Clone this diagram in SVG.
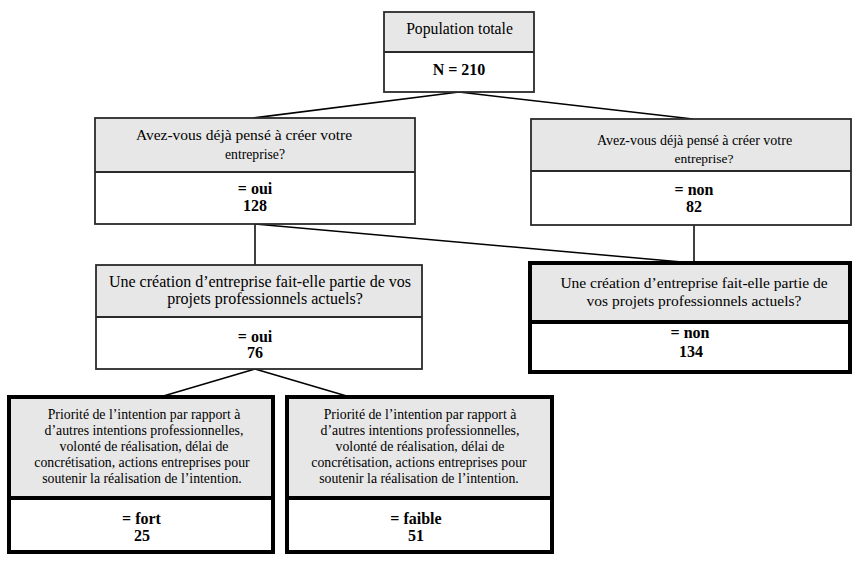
<svg xmlns="http://www.w3.org/2000/svg" width="854" height="571" viewBox="0 0 854 571">
<style>
.q{fill:#e7e7e7}
.a{fill:#ffffff}
.thin{fill:none;stroke:#2a2a2a;stroke-width:1.8}
.thick{fill:none;stroke:#000;stroke-width:4}
text{font-family:"Liberation Serif","Times New Roman",serif;fill:#000;text-anchor:middle}
.b{font-weight:bold;font-size:16px}
.c line{stroke:#000;stroke-width:1.5}
</style>
<rect width="854" height="571" fill="#fff"/>
<g class="c" id="connectors">
<line x1="459" y1="92" x2="253" y2="118"/>
<line x1="459" y1="92" x2="693" y2="119"/>
<line x1="255" y1="224" x2="255" y2="265"/>
<line x1="255" y1="224" x2="693" y2="263"/>
<line x1="694" y1="225" x2="694" y2="263"/>
<line x1="255" y1="369" x2="160" y2="397"/>
<line x1="255" y1="369" x2="350" y2="397"/>
</g>
<g id="n_total">
<rect class="q" x="384" y="12" width="150" height="40"/>
<rect class="a" x="384" y="52" width="150" height="40"/>
<rect class="thin" x="384" y="12" width="150" height="80"/>
<line class="thin" x1="384" y1="52" x2="534" y2="52"/>
<text x="459.5" y="34" font-size="15.7">Population totale</text>
<text class="b" x="459" y="75">N = 210</text>
</g>
<g id="n_oui1">
<rect class="q" x="95" y="118" width="320" height="54"/>
<rect class="a" x="95" y="172" width="320" height="52"/>
<rect class="thin" x="95" y="118" width="320" height="106"/>
<line class="thin" x1="95" y1="172" x2="415" y2="172"/>
<text x="244" y="140" font-size="15.5">Avez-vous déjà pensé à créer votre</text>
<text x="255" y="159" font-size="13.7">entreprise?</text>
<text class="b" x="255" y="194">= oui</text>
<text class="b" x="255" y="211">128</text>
</g>
<g id="n_non1">
<rect class="q" x="531" y="119" width="320" height="52"/>
<rect class="a" x="531" y="171" width="320" height="54"/>
<rect class="thin" x="531" y="119" width="320" height="106"/>
<line class="thin" x1="531" y1="171" x2="851" y2="171"/>
<text x="694.5" y="145" font-size="14">Avez-vous déjà pensé à créer votre</text>
<text x="704" y="163" font-size="13.5">entreprise?</text>
<text class="b" x="694" y="195">= non</text>
<text class="b" x="694" y="212">82</text>
</g>
<g id="n_oui2">
<rect class="q" x="96" y="265" width="326" height="52"/>
<rect class="a" x="96" y="317" width="326" height="52"/>
<rect class="thin" x="96" y="265" width="326" height="104"/>
<line class="thin" x1="96" y1="317" x2="422" y2="317"/>
<text x="260" y="287" font-size="16">Une création d’entreprise fait-elle partie de vos</text>
<text x="265" y="304" font-size="16">projets professionnels actuels?</text>
<text class="b" x="255" y="342">= oui</text>
<text class="b" x="255" y="358">76</text>
</g>
<g id="n_non2">
<rect class="q" x="530" y="263" width="320" height="59"/>
<rect class="a" x="530" y="322" width="320" height="50"/>
<rect class="thick" x="530" y="263" width="320" height="109"/>
<line class="thick" x1="530" y1="322" x2="850" y2="322"/>
<text x="694" y="288" font-size="15.5">Une création d’entreprise fait-elle partie de</text>
<text x="694" y="306" font-size="15.5">vos projets professionnels actuels?</text>
<text class="b" x="690" y="338">= non</text>
<text class="b" x="691" y="357">134</text>
</g>
<g id="n_fort" font-size="13.8">
<rect class="q" x="9" y="397" width="264" height="101"/>
<rect class="a" x="9" y="498" width="264" height="54"/>
<rect class="thick" x="9" y="397" width="264" height="155"/>
<line class="thick" x1="9" y1="498" x2="273" y2="498"/>
<text x="144" y="419">Priorité de l’intention par rapport à</text>
<text x="144" y="435">d’autres intentions professionnelles,</text>
<text x="144" y="451">volonté de réalisation, délai de</text>
<text x="142" y="467">concrétisation, actions entreprises pour</text>
<text x="142" y="483">soutenir la réalisation de l’intention.</text>
<text class="b" x="141.5" y="524">= fort</text>
<text class="b" x="142" y="541">25</text>
</g>
<g id="n_faible" font-size="13.8">
<rect class="q" x="287" y="397" width="265" height="101"/>
<rect class="a" x="287" y="498" width="265" height="54"/>
<rect class="thick" x="287" y="397" width="265" height="155"/>
<line class="thick" x1="287" y1="498" x2="552" y2="498"/>
<text x="420" y="419">Priorité de l’intention par rapport à</text>
<text x="420" y="435">d’autres intentions professionnelles,</text>
<text x="420" y="451">volonté de réalisation, délai de</text>
<text x="419" y="467">concrétisation, actions entreprises pour</text>
<text x="419" y="483">soutenir la réalisation de l’intention.</text>
<text class="b" x="416" y="524">= faible</text>
<text class="b" x="416" y="541">51</text>
</g>
</svg>
